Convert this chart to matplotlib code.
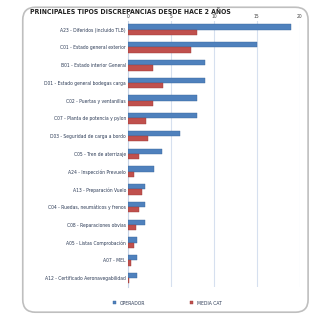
import matplotlib
matplotlib.use('Agg')
import matplotlib.pyplot as plt
from matplotlib.patches import FancyBboxPatch
import numpy as np

plt.rcParams['font.family'] = ['DejaVu Sans']
plt.rcParams['font.stretch'] = 'condensed'

# -- Data ---------------------------------------------------------------------
categories = [
    "A23 - Diferidos (incluido TLB)",
    "C01 - Estado general exterior",
    "B01 - Estado interior General",
    "D01 - Estado general bodegas carga",
    "C02 - Puertas y ventanillas",
    "C07 - Planta de potencia y pylon",
    "D03 - Seguridad de carga a bordo",
    "C05 - Tren de aterrizaje",
    "A24 - Inspección Prevuelo",
    "A13 - Preparación Vuelo",
    "C04 - Ruedas, neumáticos y frenos",
    "C08 - Reparaciones obvias",
    "A05 - Listas Comprobación",
    "A07 - MEL",
    "A12 - Certificado Aeronavegabilidad",
]
operador  = [19, 15, 9, 9, 8, 8, 6, 4, 3, 2, 2, 2, 1, 1, 1]
media_cat = [8.0, 7.3, 2.9, 4.1, 2.9, 2.1, 2.3, 1.3, 0.7, 1.6, 1.3, 0.9, 0.7, 0.3, 0.1]
xticks    = [0, 5, 10, 15, 20]

BLUE = '#4F81BD'
RED  = '#C0504D'

fig = plt.figure(figsize=(3.16, 3.16), dpi=100)

# rounded frame behind everything
frame = FancyBboxPatch((0.072, 0.012), 0.903, 0.965,
                       boxstyle="round,pad=0,rounding_size=0.04",
                       transform=fig.transFigure, facecolor='white',
                       edgecolor='#BFBFBF', linewidth=1.2, zorder=-10)
fig.patches.append(frame)

ax = fig.add_axes([0.405, 0.092, 0.544, 0.842])
ax.set_facecolor('none')
ax.set_zorder(5)

y = np.arange(len(categories))
h = 0.3
ax.barh(y - h / 2, operador, height=h, color=BLUE, edgecolor='#3A659A',
        linewidth=0.3, label='OPERADOR', zorder=3)
ax.barh(y + h / 2, media_cat, height=h, color=RED, edgecolor='#9A3B39',
        linewidth=0.3, label='MEDIA CAT', zorder=3)

ax.set_ylim(len(categories) - 0.5, -0.5)
ax.set_xlim(0, 20)
ax.set_yticks(y)
ax.set_yticklabels(categories, fontsize=3.6, color='#2B3A55')
ax.xaxis.tick_top()
ax.set_xticks(xticks)
ax.set_xticklabels([str(t) for t in xticks], fontsize=3.6, color='#404040')
ax.tick_params(length=0, pad=1.5)
ax.grid(axis='x', color='#D6E0EF', linewidth=0.8, zorder=0)
for s in ('top', 'right', 'bottom'):
    ax.spines[s].set_visible(False)
ax.spines['left'].set_color('#C8D4E6')

fig.text(0.095, 0.965, 'PRINCIPALES TIPOS DISCREPANCIAS DESDE HACE 2 AÑOS',
         fontsize=4.95, fontweight='bold', color='#202020', ha='left', va='center')

fig.legend(loc='center', bbox_to_anchor=(0.53, 0.041), ncol=2,
           fontsize=3.6, frameon=False, handlelength=0.6, handleheight=0.5,
           columnspacing=9, labelcolor='#2B3A55')

fig.savefig('out.png', dpi=100)
